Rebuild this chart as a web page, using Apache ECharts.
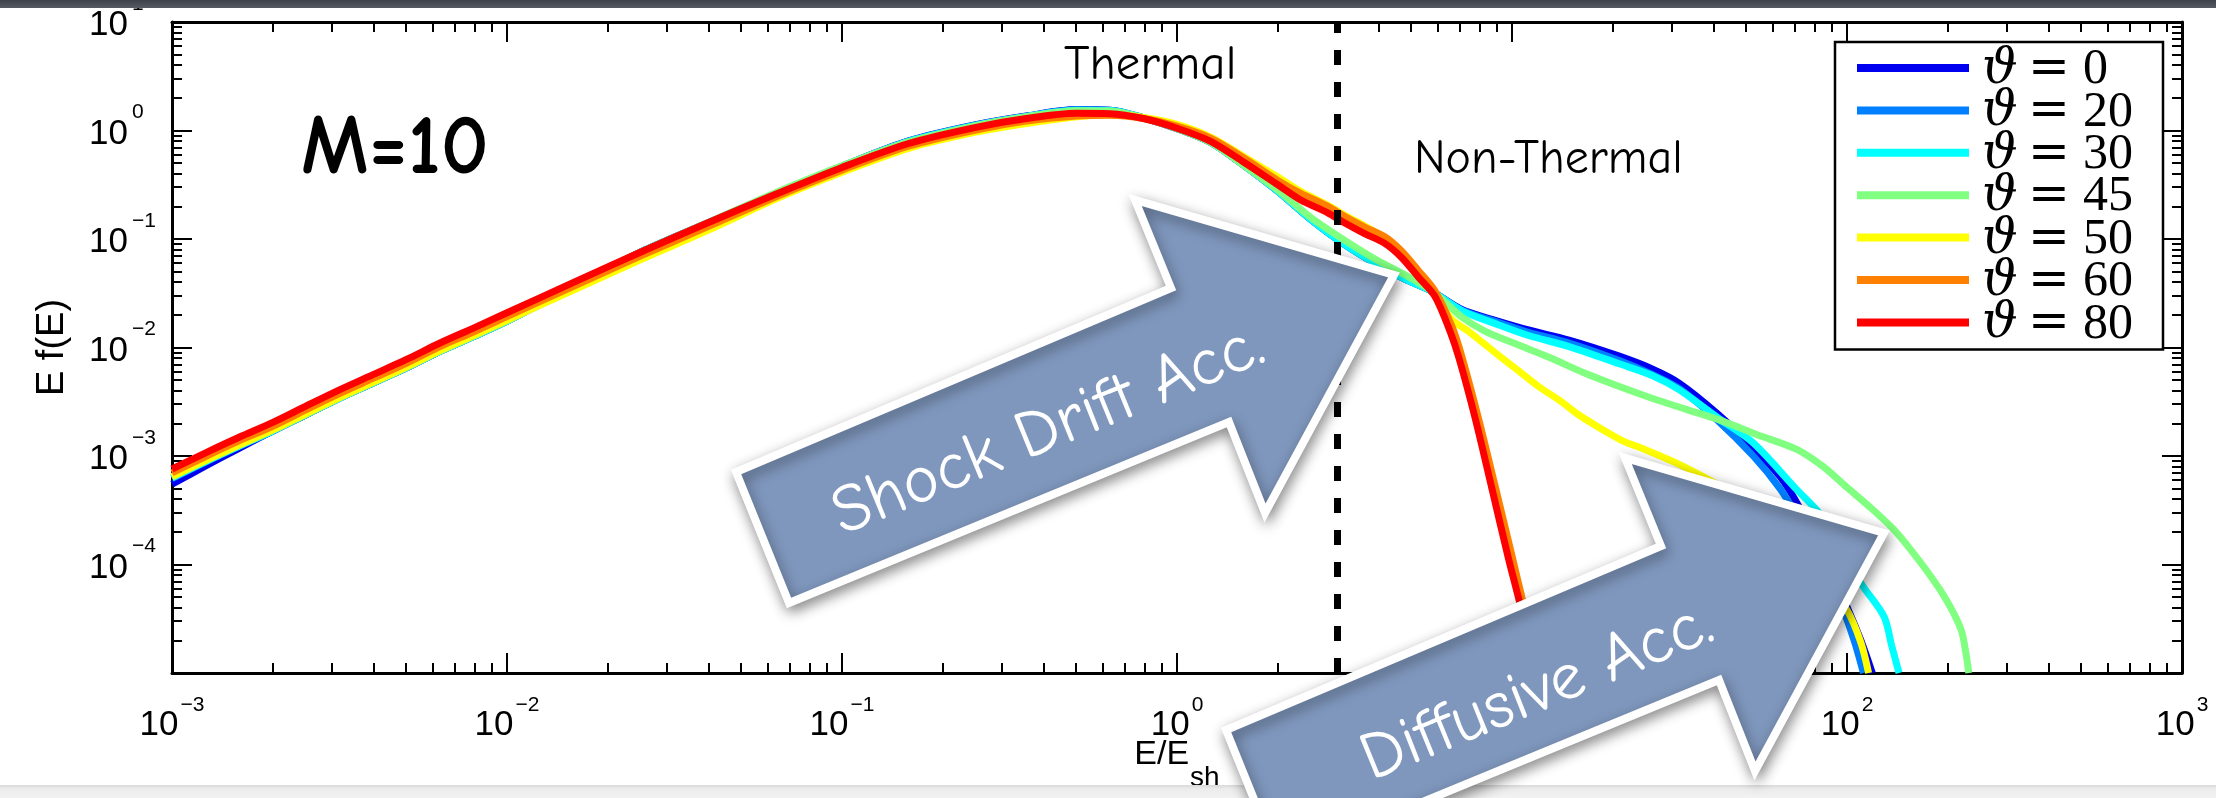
<!DOCTYPE html>
<html>
<head>
<meta charset="utf-8">
<script src="https://cdn.jsdelivr.net/npm/echarts@6/dist/echarts.min.js"></script>
<style>
  html, body { margin: 0; padding: 0; background: #fff; }
  #chart { width: 2216px; height: 798px; }
</style>
</head>
<body>
<div id="chart"></div>
<script>
// Obliquity angles of the runs and their line colours
const thetaValues = [0, 20, 30, 45, 50, 60, 80];
const lineColors = ['#0000f0', '#0080ff', '#00ffff', '#80ff80', '#ffff00', '#ff8000', '#ff0000'];

// Energy grid (E/E_sh) shared by the thermal part of every spectrum
const energyLow = [0.001, 0.00126, 0.00158, 0.002, 0.00251, 0.00316, 0.00398, 0.00501, 0.00631, 0.00794,
  0.01, 0.0158, 0.0251, 0.0398, 0.0631, 0.1, 0.158, 0.251, 0.355, 0.501, 0.631, 0.794, 1.0, 1.26, 1.58];

// E f(E) on that grid, one list per angle
const low0  = [5.5e-4, 8.1e-4, 1.17e-3, 1.70e-3, 2.40e-3, 3.40e-3, 4.70e-3, 6.5e-3, 9.2e-3, 1.26e-2, 1.75e-2, 3.63e-2, 7.6e-2, 0.140, 0.260, 0.468, 0.801, 1.13, 1.36, 1.56, 1.54, 1.31, 1.04, 0.776, 0.479];
const low20 = [6.2e-4, 8.8e-4, 1.22e-3, 1.70e-3, 2.40e-3, 3.40e-3, 4.70e-3, 6.5e-3, 9.2e-3, 1.26e-2, 1.75e-2, 3.63e-2, 7.59e-2, 0.141, 0.260, 0.468, 0.797, 1.12, 1.35, 1.55, 1.54, 1.31, 1.04, 0.776, 0.479];
const low30 = [6.3e-4, 8.9e-4, 1.23e-3, 1.71e-3, 2.41e-3, 3.40e-3, 4.71e-3, 6.5e-3, 9.2e-3, 1.26e-2, 1.75e-2, 3.63e-2, 7.59e-2, 0.141, 0.260, 0.468, 0.795, 1.12, 1.35, 1.54, 1.53, 1.31, 1.04, 0.776, 0.479];
const low45 = [6.38e-4, 9.0e-4, 1.24e-3, 1.72e-3, 2.42e-3, 3.42e-3, 4.73e-3, 6.53e-3, 9.25e-3, 1.27e-2, 1.76e-2, 3.63e-2, 7.59e-2, 0.141, 0.266, 0.473, 0.786, 1.11, 1.34, 1.52, 1.51, 1.31, 1.04, 0.776, 0.479];
const low50 = [6.46e-4, 9.1e-4, 1.26e-3, 1.74e-3, 2.45e-3, 3.46e-3, 4.78e-3, 6.60e-3, 9.36e-3, 1.29e-2, 1.78e-2, 3.39e-2, 6.46e-2, 0.120, 0.232, 0.412, 0.685, 0.965, 1.16, 1.34, 1.40, 1.32, 1.14, 0.870, 0.576];
const low60 = [7.0e-4, 9.9e-4, 1.37e-3, 1.88e-3, 2.66e-3, 3.76e-3, 5.19e-3, 7.16e-3, 1.02e-2, 1.39e-2, 1.93e-2, 3.67e-2, 7.0e-2, 0.130, 0.243, 0.431, 0.717, 1.01, 1.22, 1.36, 1.38, 1.29, 1.10, 0.851, 0.562];
const low80 = [7.59e-4, 1.07e-3, 1.48e-3, 2.04e-3, 2.88e-3, 4.07e-3, 5.62e-3, 7.76e-3, 1.10e-2, 1.51e-2, 2.09e-2, 3.98e-2, 7.59e-2, 0.141, 0.257, 0.457, 0.759, 1.07, 1.29, 1.44, 1.43, 1.29, 1.05, 0.794, 0.513];

// High-energy tails as [E/E_sh, E f(E)] pairs
const tail0 = [[2.0, 0.275], [2.51, 0.151], [3.16, 0.0891], [3.98, 0.0575], [4.79, 0.0427], [5.75, 0.0331], [7.08, 0.0224], [8.91, 0.0178], [11.2, 0.0145], [14.8, 0.0117], [20.9, 0.00832], [26.3, 0.00631], [31.6, 0.00468], [40.7, 0.00251], [52.5, 0.0012], [63.1, 6.46e-4], [70.8, 3.72e-4], [83.2, 1.41e-4], [100, 4.07e-5], [110, 2.0e-5], [119, 1.0e-5]];
const tail20 = [[2.0, 0.275], [2.51, 0.151], [3.16, 0.0891], [3.98, 0.0575], [4.79, 0.0427], [5.75, 0.0331], [7.08, 0.0221], [8.91, 0.0174], [11.2, 0.0138], [14.8, 0.011], [20.9, 0.00759], [26.3, 0.00562], [31.6, 0.00417], [40.7, 0.00219], [52.5, 0.001], [63.1, 5.01e-4], [70.8, 2.82e-4], [83.2, 1.12e-4], [95.5, 4.47e-5], [105, 2.0e-5], [112, 1.0e-5]];
const tail30 = [[2.0, 0.275], [2.51, 0.151], [3.16, 0.0891], [3.98, 0.0575], [4.79, 0.0427], [5.75, 0.0331], [7.08, 0.0219], [8.91, 0.0166], [11.2, 0.0129], [14.8, 0.0102], [20.9, 0.00708], [26.3, 0.0055], [31.6, 0.00407], [41.7, 0.00219], [52.5, 0.00132], [70.8, 4.9e-4], [81.3, 3.16e-4], [95.5, 1.58e-4], [110, 6.76e-5], [129, 3.31e-5], [136, 1.78e-5], [143, 1.0e-5]];
const tail45 = [[2.0, 0.282], [2.51, 0.158], [3.16, 0.0977], [3.98, 0.0631], [4.79, 0.0468], [5.89, 0.0316], [7.08, 0.0191], [8.32, 0.0141], [10.5, 0.0105], [12.9, 0.00813], [16.6, 0.00575], [20.9, 0.00437], [26.3, 0.00339], [33.1, 0.00269], [41.7, 0.00214], [53.7, 0.00158], [70.8, 0.00115], [85.1, 7.94e-4], [100, 5.13e-4], [120, 3.16e-4], [141, 1.95e-4], [178, 7.76e-5], [200, 4.47e-5], [219, 2.51e-5], [226, 1.58e-5], [231, 1.0e-5]];
const tail50 = [[2.0, 0.372], [2.34, 0.275], [2.82, 0.204], [3.16, 0.166], [3.63, 0.132], [4.17, 0.102], [4.68, 0.0759], [5.25, 0.0501], [5.89, 0.0302], [6.61, 0.0182], [7.41, 0.0141], [8.2, 0.011], [9.27, 0.00813], [10.5, 0.00603], [12.0, 0.00437], [13.9, 0.00324], [15.8, 0.0024], [18.7, 0.00174], [21.4, 0.00138], [24.9, 0.00115], [30.2, 8.91e-4], [36.1, 6.76e-4], [44.7, 4.68e-4], [56.2, 2.82e-4], [70.8, 1.41e-4], [85.1, 7.59e-5], [100, 3.8e-5], [110, 1.91e-5], [116, 1.0e-5]];
const tail60 = [[2.0, 0.347], [2.34, 0.263], [2.82, 0.200], [3.16, 0.162], [3.63, 0.129], [4.17, 0.105], [4.68, 0.0776], [5.25, 0.0513], [5.89, 0.0331], [6.61, 0.0158], [7.08, 0.00832], [7.94, 0.00224], [8.91, 5.25e-4], [10.0, 1.20e-4], [10.7, 5.01e-5], [11.5, 2.09e-5], [12.2, 1.0e-5]];
const tail80 = [[2.0, 0.316], [2.34, 0.229], [2.82, 0.174], [3.16, 0.141], [3.63, 0.112], [4.17, 0.0912], [4.68, 0.0676], [5.25, 0.0447], [5.89, 0.0295], [6.53, 0.0141], [6.95, 0.00794], [7.76, 0.00224], [8.71, 5.01e-4], [9.77, 1.12e-4], [10.5, 4.68e-5], [11.2, 2.0e-5], [11.9, 1.0e-5]];

const lowByAngle = [low0, low20, low30, low45, low50, low60, low80];
const tailByAngle = [tail0, tail20, tail30, tail45, tail50, tail60, tail80];

// Thermal / non-thermal boundary in E/E_sh
const thermalBoundary = 3;

// Axis decades (exponents) and minor-tick multipliers
const xDecades = [-3, -2, -1, 0, 1, 2, 3];
const yDecades = [-5, -4, -3, -2, -1, 0, 1];
const yLabelledDecades = [-4, -3, -2, -1, 0, 1];
const minorMultipliers = [2, 3, 4, 5, 6, 7, 8, 9];

const sansFont = "'Liberation Sans', Arial, Helvetica, sans-serif";
const serifFont = "'Liberation Serif', 'Times New Roman', serif";
const mathFont = "'DejaVu Serif', serif";
const noteFont = "'Comic Sans MS', 'Comic Neue', Lato, 'Noto Sans', sans-serif";

function minorExponents(decades) {
  const out = [];
  decades.slice(0, -1).forEach(d => minorMultipliers.forEach(m => out.push(d + Math.log10(m))));
  return out;
}
const xMinor = minorExponents(xDecades);
const yMinor = minorExponents(yDecades);

const expText = p => (p < 0 ? '\u2212' + (-p) : String(p));

function powerLabel(v) {
  return '{b|10}{s|' + expText(Math.round(Math.log10(v))) + '}';
}

// "10" sits at the bottom of a tall line, the exponent at its top
const labelRich = {
  b: { fontSize: 35, fontFamily: sansFont, color: '#000', lineHeight: 48, verticalAlign: 'bottom' },
  s: { fontSize: 21, fontFamily: sansFont, color: '#000', lineHeight: 22, padding: [0, 0, 0, 2], verticalAlign: 'top' }
};

const blackLine = { show: true, onZero: false, lineStyle: { color: '#000', width: 3 } };
const noLine = { show: false, onZero: false };
const majorTick = { show: true, inside: true, length: 20, lineStyle: { color: '#000', width: 2 } };
const minorTickAt = vals => ({ show: true, inside: true, length: 10, customValues: vals, lineStyle: { color: '#000', width: 2 } });

const seriesNames = thetaValues.map(t => '\u03d1 = ' + t);

const series = thetaValues.map((t, i) => ({
  type: 'line',
  name: seriesNames[i],
  data: energyLow.map((e, k) => [e, lowByAngle[i][k]]).concat(tailByAngle[i]),
  color: lineColors[i],
  showSymbol: false,
  symbol: 'none',
  smooth: 0.3,
  lineStyle: { width: 7, color: lineColors[i] },
  emphasis: { disabled: true },
  silent: true,
  animation: false
}));

// dashed boundary between the thermal and non-thermal regions
series[series.length - 1].markLine = {
  silent: true,
  symbol: 'none',
  animation: false,
  label: { show: false },
  lineStyle: { color: '#000', width: 7, type: [15, 17] },
  data: [{ xAxis: thermalBoundary }]
};

// block arrows drawn over the plot
const arrowShock = [[736, 472], [1171, 288], [1135, 200], [1394, 275], [1265, 513], [1229, 422], [789, 603]];
const arrowDiffusive = [[1226, 730], [1661, 546], [1625, 458], [1884, 533], [1755, 771], [1719, 680], [1279, 861]];
const arrowStyle = {
  fill: '#7f97bd', stroke: '#ffffff', lineWidth: 8, lineJoin: 'miter',
  shadowBlur: 14, shadowColor: 'rgba(0,0,0,0.4)', shadowOffsetX: 2, shadowOffsetY: 5
};
const arrowText = {
  fontSize: 68, fontFamily: noteFont, fill: '#ffffff', align: 'center', verticalAlign: 'middle',
  shadowBlur: 4, shadowColor: 'rgba(0,0,0,0.35)', shadowOffsetX: 2, shadowOffsetY: 2
};

const option = {
  backgroundColor: '#ffffff',
  animation: false,
  grid: { left: 172, right: 34, top: 22, bottom: 125, containLabel: false, outerBoundsMode: 'none' },
  legend: {
    orient: 'vertical', left: 1835, top: 42,
    padding: [3, 30, 0, 22], itemGap: -7.6, itemWidth: 112, itemHeight: 8,
    icon: 'rect', backgroundColor: '#ffffff', borderColor: '#000', borderWidth: 2.5,
    selectedMode: false, data: seriesNames,
    formatter: name => '{v|\u03d1}{e|=}{n|' + name.split('= ')[1] + '}',
    textStyle: {
      padding: [4, 0, 0, 0],
      rich: {
        v: { fontFamily: mathFont, fontStyle: 'italic', fontSize: 50, lineHeight: 30.5, width: 46, padding: [0, 0, 0, 8], color: '#000' },
        e: { fontFamily: mathFont, fontSize: 50, lineHeight: 30.5, width: 55, color: '#000' },
        n: { fontFamily: serifFont, fontSize: 50, lineHeight: 30.5, color: '#000' }
      }
    }
  },
  xAxis: [
    {
      type: 'log', logBase: 10, min: 1e-3, max: 1e3, splitNumber: 6, position: 'bottom',
      axisLine: blackLine, axisTick: majorTick, splitLine: { show: false }, minorTick: { show: false },
      axisLabel: { show: true, margin: 22, formatter: powerLabel, rich: labelRich },
      name: '{a|E/E}{s|sh}', nameLocation: 'middle', nameGap: 65, nameMoveOverlap: false,
      nameTextStyle: {
        rich: {
          a: { fontSize: 34, fontFamily: sansFont, color: '#000', lineHeight: 54, verticalAlign: 'top' },
          s: { fontSize: 28, fontFamily: sansFont, color: '#000', lineHeight: 54, padding: [0, 0, 0, 1], verticalAlign: 'bottom' }
        }
      }
    },
    {
      type: 'log', logBase: 10, min: 1e-3, max: 1e3, splitNumber: 6, position: 'top',
      axisLine: blackLine, axisTick: majorTick, axisLabel: { show: false }, splitLine: { show: false }
    },
    {
      type: 'value', min: xDecades[0], max: xDecades[xDecades.length - 1], position: 'bottom',
      axisLine: noLine, axisTick: minorTickAt(xMinor), axisLabel: { show: false }, splitLine: { show: false }
    },
    {
      type: 'value', min: xDecades[0], max: xDecades[xDecades.length - 1], position: 'top',
      axisLine: noLine, axisTick: minorTickAt(xMinor), axisLabel: { show: false }, splitLine: { show: false }
    }
  ],
  yAxis: [
    {
      // main E f(E) axis: the "10" of each decade label
      type: 'log', logBase: 10, min: 1e-5, max: 10, splitNumber: 6, position: 'left',
      axisLine: blackLine, axisTick: majorTick, splitLine: { show: false }, minorTick: { show: false },
      axisLabel: {
        show: true, margin: 83, align: 'left', verticalAlign: 'top', lineHeight: 7,
        fontSize: 35, fontFamily: sansFont, color: '#000',
        formatter: v => (Math.round(Math.log10(v)) === yDecades[0] ? '' : '10')
      },
      name: 'E f(E)', nameLocation: 'middle', nameGap: 100, nameRotate: 90, nameMoveOverlap: false,
      nameTextStyle: { fontSize: 38, fontFamily: sansFont, color: '#000' }
    },
    {
      type: 'log', logBase: 10, min: 1e-5, max: 10, splitNumber: 6, position: 'right',
      axisLine: blackLine, axisTick: majorTick, axisLabel: { show: false }, splitLine: { show: false }
    },
    {
      // minor ticks on the left plus the decade exponents
      type: 'value', min: yDecades[0], max: yDecades[yDecades.length - 1], position: 'left',
      axisLine: noLine, axisTick: minorTickAt(yMinor), splitLine: { show: false },
      axisLabel: {
        show: true, customValues: yLabelledDecades, margin: 40, align: 'left', verticalAlign: 'bottom', lineHeight: 36,
        fontSize: 21, fontFamily: sansFont, color: '#000', formatter: v => expText(Math.round(v))
      }
    },
    {
      type: 'value', min: yDecades[0], max: yDecades[yDecades.length - 1], position: 'right',
      axisLine: noLine, axisTick: minorTickAt(yMinor), axisLabel: { show: false }, splitLine: { show: false }
    }
  ],
  series: series,
  graphic: [
    { type: 'text', x: 301, y: 149, z: 60, style: { text: 'M=10', fontSize: 84, fontWeight: 'bold', fontFamily: noteFont, fill: '#000', verticalAlign: 'middle' } },
    { type: 'text', x: 1064, y: 65, z: 60, style: { text: 'Thermal', fontSize: 49, fontFamily: noteFont, fill: '#000', verticalAlign: 'middle' } },
    { type: 'text', x: 1414, y: 159, z: 60, style: { text: 'Non-Thermal', fontSize: 48, fontFamily: noteFont, fill: '#000', verticalAlign: 'middle' } },
    {
      type: 'rect', z: 90, shape: { x: 0, y: 785, width: 2216, height: 13 },
      style: { fill: new echarts.graphic.LinearGradient(0, 0, 0, 1, [{ offset: 0, color: '#d9d9d9' }, { offset: 0.3, color: '#ececec' }, { offset: 1, color: '#f2f2f2' }]) }
    },
    { type: 'polygon', z: 100, shape: { points: arrowShock }, style: arrowStyle },
    { type: 'text', z: 101, x: 1048, y: 430, rotation: 0.39, style: Object.assign({ text: 'Shock Drift Acc.' }, arrowText) },
    { type: 'polygon', z: 100, shape: { points: arrowDiffusive }, style: arrowStyle },
    { type: 'text', z: 101, x: 1537, y: 692, rotation: 0.39, style: Object.assign({ text: 'Diffusive Acc.' }, arrowText) },
    {
      type: 'rect', z: 110, shape: { x: 0, y: 0, width: 2216, height: 8 },
      style: { fill: new echarts.graphic.LinearGradient(0, 0, 0, 1, [{ offset: 0, color: '#3d414a' }, { offset: 1, color: '#555a63' }]) }
    }
  ]
};

const chart = echarts.init(document.getElementById('chart'), null, { renderer: 'canvas' });
chart.setOption(option);
</script>
</body>
</html>
